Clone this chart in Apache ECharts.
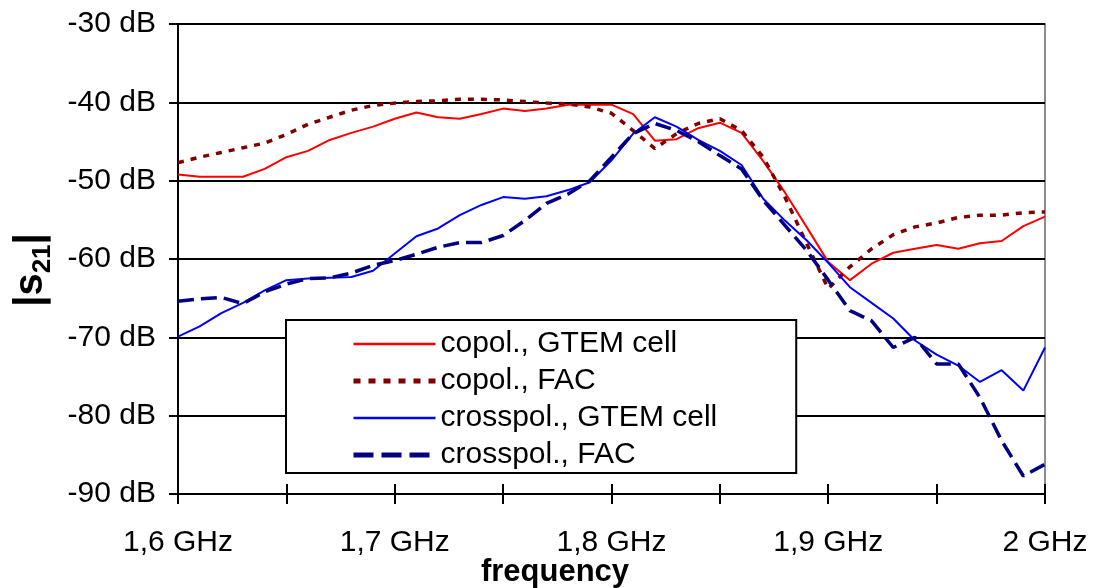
<!DOCTYPE html>
<html>
<head>
<meta charset="utf-8">
<script src="https://cdn.jsdelivr.net/npm/echarts@6/dist/echarts.min.js"></script>
<style>
html,body{margin:0;padding:0;background:#fff;}
#chart{width:1097px;height:588px;}
</style>
</head>
<body>
<div id="chart"></div>
<script>
// Frequency in GHz
const freq = [1.60,1.61,1.62,1.63,1.64,1.65,1.66,1.67,1.68,1.69,1.70,1.71,1.72,1.73,1.74,1.75,1.76,1.77,1.78,1.79,1.80,1.81,1.82,1.83,1.84,1.85,1.86,1.87,1.88,1.89,1.90,1.91,1.92,1.93,1.94,1.95,1.96,1.97,1.98,1.99,2.00];
// |S21| in dB
const copolGtem = [-49.2,-49.5,-49.5,-49.5,-48.5,-47.0,-46.2,-44.8,-43.9,-43.1,-42.1,-41.3,-41.9,-42.1,-41.5,-40.8,-41.1,-40.8,-40.3,-40.3,-40.3,-41.5,-44.9,-44.7,-43.3,-42.6,-43.9,-47.5,-51.5,-55.9,-60.4,-62.7,-60.6,-59.2,-58.7,-58.2,-58.7,-58.0,-57.7,-55.8,-54.6];
const copolFac = [-47.7,-47.0,-46.4,-45.8,-45.2,-44.1,-42.8,-41.9,-41.0,-40.4,-40.1,-39.9,-39.8,-39.6,-39.6,-39.7,-39.9,-40.1,-40.2,-40.6,-41.4,-43.6,-45.9,-44.0,-42.7,-42.1,-43.6,-47.0,-52.1,-58.0,-63.8,-61.0,-58.7,-56.9,-55.9,-55.4,-54.7,-54.4,-54.4,-54.1,-54.0];
const crossGtem = [-69.9,-68.6,-66.9,-65.6,-64.0,-62.7,-62.5,-62.4,-62.3,-61.5,-59.3,-57.1,-56.1,-54.4,-53.1,-52.1,-52.3,-52.0,-51.2,-50.2,-47.4,-44.0,-41.9,-43.1,-44.8,-46.2,-48.0,-52.3,-55.1,-57.6,-60.5,-63.6,-65.6,-67.6,-70.4,-72.2,-73.6,-75.7,-74.2,-76.8,-71.3];
const crossFac = [-65.4,-65.1,-64.9,-65.7,-64.2,-63.2,-62.5,-62.4,-61.8,-60.8,-60.2,-59.4,-58.5,-57.9,-57.9,-57.0,-55.1,-52.9,-51.7,-50.0,-47.0,-44.0,-42.7,-43.6,-45.0,-46.8,-48.5,-52.5,-55.7,-58.9,-62.7,-66.6,-67.9,-71.3,-70.0,-73.4,-73.4,-77.7,-83.2,-87.7,-86.2];
const seriesNames = ['copol., GTEM cell','copol., FAC','crosspol., GTEM cell','crosspol., FAC'];

const FONT = '"Liberation Sans", Arial, sans-serif';
const pairs = arr => freq.map((f, i) => [f, arr[i]]);

const chart = echarts.init(document.getElementById('chart'), null, {renderer: 'canvas'});
const xLabel = v => {
  const t = Math.round(v * 100);
  if (t % 10 !== 0) return '';
  return String(t / 100).replace('.', ',') + ' GHz';
};
chart.setOption({
  animation: false,
  backgroundColor: '#fff',
  grid: {left: 178, right: 52, top: 24, bottom: 94, show: true, borderColor: '#8c8c8c', borderWidth: 2, backgroundColor: 'transparent'},
  xAxis: [{
    type: 'value', min: 1.6, max: 2.0, interval: 0.05,
    axisLine: {show: true, lineStyle: {color: '#000', width: 2}},
    axisTick: {show: true, inside: false, length: 10, lineStyle: {color: '#000', width: 2}},
    axisLabel: {formatter: xLabel, color: '#000', fontSize: 30, fontFamily: FONT, margin: 34, showMinLabel: true, showMaxLabel: true},
    splitLine: {show: false}
  }, {
    type: 'value', min: 1.6, max: 2.0, interval: 0.05, position: 'bottom',
    axisLine: {show: false},
    axisTick: {show: true, inside: true, length: 10, lineStyle: {color: '#000', width: 2}},
    axisLabel: {show: false},
    splitLine: {show: false}
  }],
  yAxis: {
    type: 'value', min: -90, max: -30, interval: 10,
    axisLine: {show: true, lineStyle: {color: '#000', width: 2}},
    axisTick: {show: true, inside: false, length: 9, lineStyle: {color: '#000', width: 2}},
    axisLabel: {formatter: v => v + ' dB', color: '#000', fontSize: 30, fontFamily: FONT, margin: 22},
    splitLine: {show: true, lineStyle: {color: '#000', width: 2}}
  },
  legend: {
    orient: 'vertical', left: 286, top: 320,
    data: [
      {name: seriesNames[0], lineStyle: {width: 2.5}},
      {name: seriesNames[1], lineStyle: {width: 5, type: [7, 8]}},
      {name: seriesNames[2], lineStyle: {width: 2.5}},
      {name: seriesNames[3], lineStyle: {width: 5, type: [20, 8]}}
    ],
    backgroundColor: '#fff', borderColor: '#000', borderWidth: 2,
    padding: [9, 79, 3, 65],
    itemWidth: 82, itemHeight: 14, itemGap: 7,
    itemStyle: {opacity: 0},
    textStyle: {color: '#000', fontSize: 30, fontFamily: FONT, lineHeight: 30}
  },
  graphic: [{
    type: 'text', x: 31, y: 270, rotation: Math.PI / 2,
    style: {
      text: '{b||s}{s|21}{b||}',
      rich: {
        b: {fontSize: 40, fontWeight: 'bold', fontFamily: FONT, fill: '#000', lineHeight: 50},
        s: {fontSize: 26, fontWeight: 'bold', fontFamily: FONT, fill: '#000', lineHeight: 28, verticalAlign: 'bottom'}
      },
      align: 'center', verticalAlign: 'middle'
    }
  }, {
    type: 'text', x: 555, y: 572,
    style: {text: 'frequency', fontSize: 31, fontWeight: 'bold', fontFamily: FONT, fill: '#000', align: 'center', verticalAlign: 'middle'}
  }],
  series: [
    {name: seriesNames[0], type: 'line', data: pairs(copolGtem), symbol: 'none', z: 3,
     lineStyle: {color: '#ff0000', width: 2}, itemStyle: {color: '#ff0000'}},
    {name: seriesNames[1], type: 'line', data: pairs(copolFac), symbol: 'none', z: 3,
     lineStyle: {color: '#800000', width: 3.5, type: [6, 7]}, itemStyle: {color: '#800000'}},
    {name: seriesNames[2], type: 'line', data: pairs(crossGtem), symbol: 'none', z: 3,
     lineStyle: {color: '#0000ff', width: 2}, itemStyle: {color: '#0000ff'}},
    {name: seriesNames[3], type: 'line', data: pairs(crossFac), symbol: 'none', z: 3,
     lineStyle: {color: '#000080', width: 3.5, type: [16, 7]}, itemStyle: {color: '#000080'}}
  ]
});
</script>
</body>
</html>
